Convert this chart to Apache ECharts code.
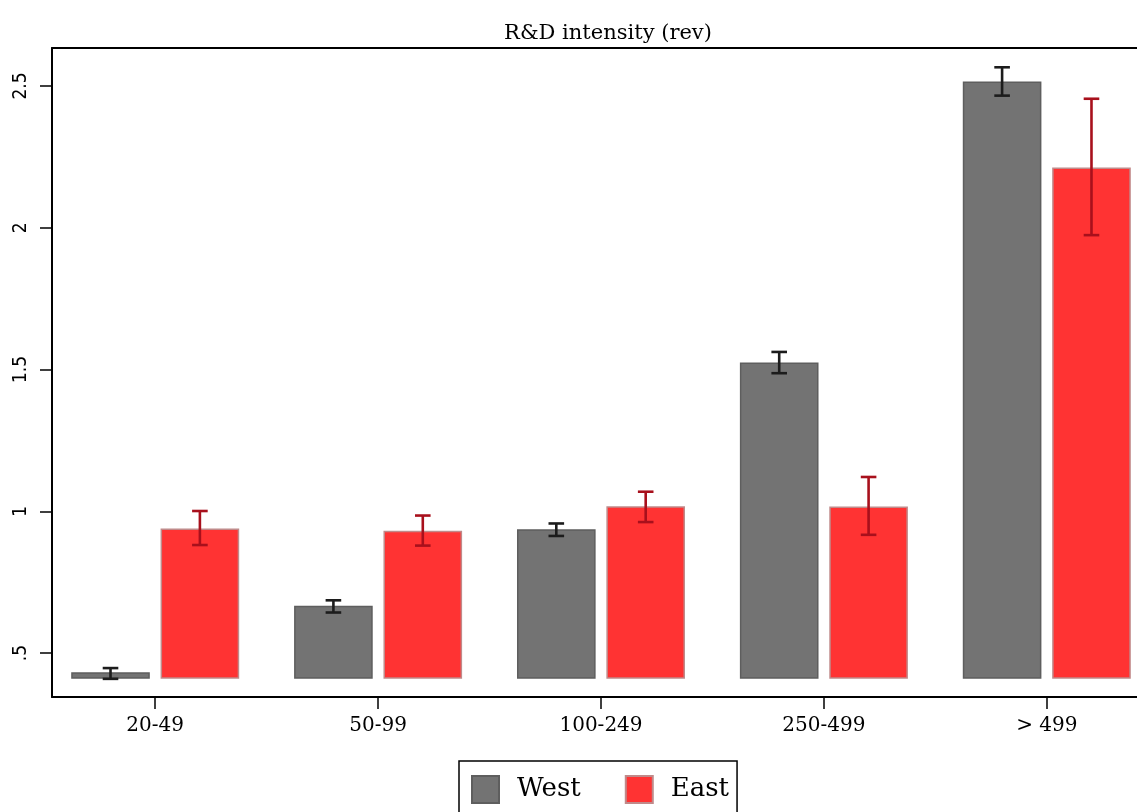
<!DOCTYPE html>
<html>
<head>
<meta charset="utf-8">
<script src="https://cdn.jsdelivr.net/npm/echarts@6/dist/echarts.min.js"></script>
<style>
html,body{margin:0;padding:0;background:#fff;}
#chart{width:1137px;height:812px;}
</style>
</head>
<body>
<div id="chart"></div>
<script>
// ---- data ----
const categories = ['20-49', '50-99', '100-249', '250-499', '> 499'];
const westValues = [0.430, 0.664, 0.934, 1.522, 2.513];
const westLow    = [0.409, 0.643, 0.913, 1.487, 2.466];
const westHigh   = [0.447, 0.686, 0.957, 1.562, 2.566];
const eastValues = [0.937, 0.929, 1.015, 1.014, 2.210];
const eastLow    = [0.881, 0.879, 0.962, 0.917, 1.974];
const eastHigh   = [1.001, 0.985, 1.069, 1.121, 2.455];
const yTicks = [0.5, 1, 1.5, 2, 2.5];
const yTickLabels = ['.5', '1', '1.5', '2', '2.5'];
const BAR_BASE = 0.412;
const title = 'R&D intensity (rev)';

// ---- layout constants (in x-axis units: one category = 1) ----
const BAR_W = 0.346;
const OFFSET = 0.2005;
const CAP_W = 0.07;

function buildData(vals, lows, highs) {
  return vals.map((v, i) => [i, v, lows[i], highs[i]]);
}

function makeRender(offset, fill, stroke, errColor) {
  return function (params, api) {
    const i = api.value(0);
    const v = api.value(1), lo = api.value(2), hi = api.value(3);
    const top = api.coord([i + offset, v]);
    const base = api.coord([i + offset, BAR_BASE]);
    const w = api.size([BAR_W, 0])[0];
    const cw = api.size([CAP_W, 0])[0];
    const pLo = api.coord([i + offset, lo]);
    const pHi = api.coord([i + offset, hi]);
    const cx = top[0];
    return {
      type: 'group',
      children: [
        { type: 'rect', shape: { x: cx - w / 2, y: top[1], width: w, height: base[1] - top[1] },
          style: { fill: fill, stroke: stroke, lineWidth: 1.5 } },
        { type: 'line', shape: { x1: cx, y1: pLo[1], x2: cx, y2: pHi[1] },
          style: { stroke: errColor, lineWidth: 2.6 } },
        { type: 'line', shape: { x1: cx - cw / 2, y1: pLo[1], x2: cx + cw / 2, y2: pLo[1] },
          style: { stroke: errColor, lineWidth: 2.6 } },
        { type: 'line', shape: { x1: cx - cw / 2, y1: pHi[1], x2: cx + cw / 2, y2: pHi[1] },
          style: { stroke: errColor, lineWidth: 2.6 } }
      ]
    };
  };
}

const chart = echarts.init(document.getElementById('chart'), null, { renderer: 'canvas' });
const serif = 'DejaVu Serif';
const option = {
  backgroundColor: '#fff',
  animation: false,
  title: {
    text: title, left: 603, top: 18, textAlign: 'center',
    textStyle: { fontFamily: serif, fontWeight: 'normal', fontSize: 21, color: '#000' }
  },
  grid: { left: 52, right: 0, top: 48, bottom: 115, containLabel: false },
  legend: {
    left: 459, top: 761,
    data: ['West', 'East'],
    icon: 'rect', itemWidth: 27, itemHeight: 27, itemGap: 44,
    padding: [14, 8, 12, 12],
    borderColor: '#000', borderWidth: 1.5,
    textStyle: { fontFamily: serif, fontSize: 26, color: '#000', padding: [0, 0, 0, 13] }
  },
  xAxis: [{
    type: 'value', min: -0.463, max: 4.4047, position: 'bottom',
    splitLine: { show: false },
    axisLine: { show: true, onZero: false, lineStyle: { color: '#000', width: 2 } },
    axisTick: { show: true, length: 12, customValues: [0, 1, 2, 3, 4], lineStyle: { color: '#000', width: 1.5 } },
    axisLabel: {
      customValues: [0, 1, 2, 3, 4], margin: 19,
      formatter: v => categories[Math.round(v)] || '',
      fontFamily: serif, fontSize: 20, color: '#000'
    }
  }, {
    type: 'value', min: -0.463, max: 4.4047, position: 'top',
    splitLine: { show: false },
    axisLine: { show: true, onZero: false, lineStyle: { color: '#000', width: 2 } },
    axisTick: { show: false }, axisLabel: { show: false }
  }],
  yAxis: {
    type: 'value', min: 0.345, max: 2.634,
    splitLine: { show: false },
    axisLine: { show: true, onZero: false, lineStyle: { color: '#000', width: 2 } },
    axisTick: { show: true, length: 12, customValues: yTicks, lineStyle: { color: '#000', width: 1.5 } },
    axisLabel: {
      customValues: yTicks, rotate: 90, margin: 21,
      formatter: v => { const k = yTicks.findIndex(t => Math.abs(t - v) < 1e-6); return k >= 0 ? yTickLabels[k] : ''; },
      fontFamily: 'Liberation Sans Narrow, DejaVu Sans Condensed, sans-serif', fontSize: 19, color: '#000'
    }
  },
  series: [{
    name: 'West', type: 'custom', xAxisIndex: 0,
    itemStyle: { color: '#737373', borderColor: '#5e5e5e', borderWidth: 1.5 },
    renderItem: makeRender(-OFFSET, '#737373', '#5e5e5e', '#1c1c1c'),
    encode: { x: 0, y: [1, 2, 3] },
    data: buildData(westValues, westLow, westHigh)
  }, {
    name: 'East', type: 'custom', xAxisIndex: 0,
    itemStyle: { color: '#ff3333', borderColor: '#c08a8a', borderWidth: 1.5 },
    renderItem: makeRender(OFFSET, '#ff3333', '#c08a8a', '#a8101c'),
    encode: { x: 0, y: [1, 2, 3] },
    data: buildData(eastValues, eastLow, eastHigh)
  }]
};
chart.setOption(option);
</script>
</body>
</html>
